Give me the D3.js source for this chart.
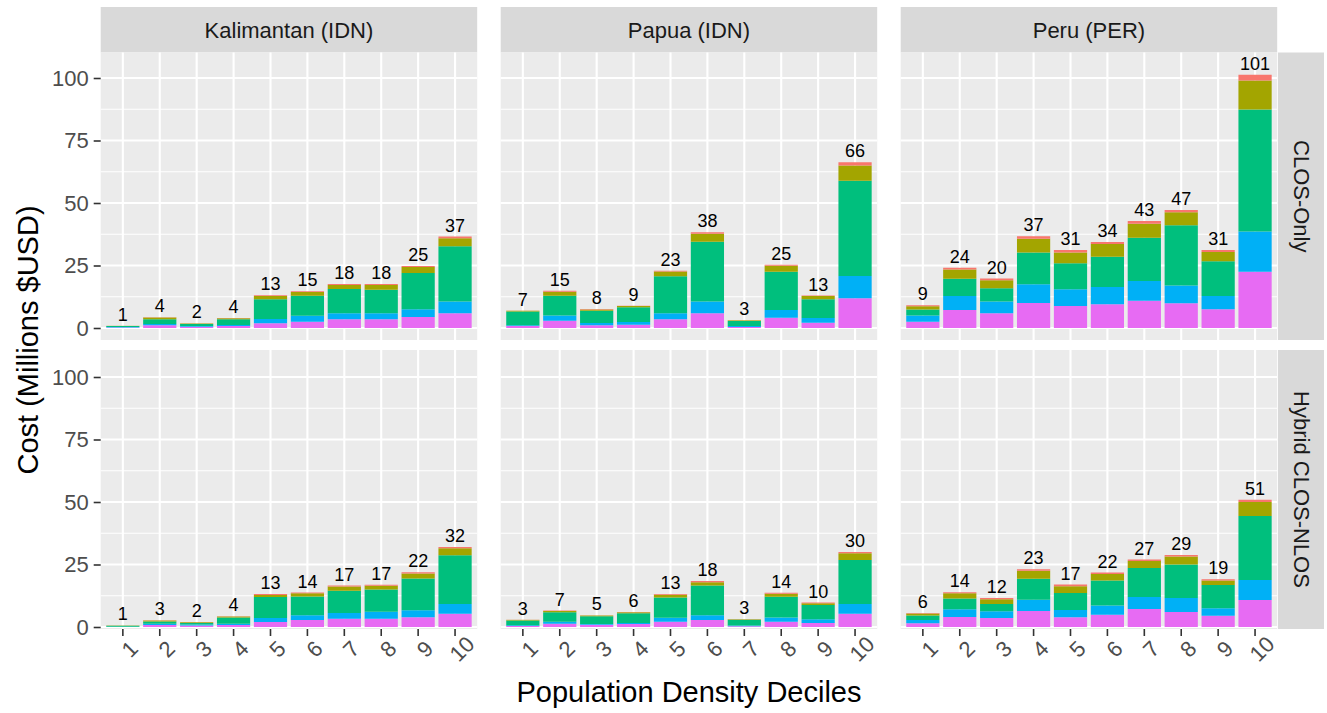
<!DOCTYPE html>
<html><head><meta charset="utf-8">
<script src="https://cdn.jsdelivr.net/npm/d3@7"></script>
<style>
body{margin:0;background:#fff}
text{font-family:"Liberation Sans",Arial,Helvetica,sans-serif}
</style>
</head><body>
<svg id="chart" width="1327" height="713"></svg>
<script>
// ---------- data ----------
const deciles = ["1","2","3","4","5","6","7","8","9","10"];
const regions = ["Kalimantan (IDN)", "Papua (IDN)", "Peru (PER)"];
const strategies = ["CLOS-Only", "Hybrid CLOS-NLOS"];
// cost components, stacked from bottom to top (legend not shown in the figure)
const components = ["Component 1","Component 2","Component 3","Component 4","Component 5"];
const componentColors = ["#E76BF3","#00B0F6","#00BF7D","#A3A500","#F8766D"];
const yTickValues = [0,25,50,75,100];
const yMinorValues = [12.5,37.5,62.5,87.5];

// each facet: one array per component (bottom -> top), values per decile, millions USD
const kalimantanClos = [
  [0.2, 1.1, 0.5, 0.8, 1.9, 2.5, 3.5, 3.5, 4.4, 5.9],
  [0.2, 0.5, 0.3, 0.4, 1.7, 2.4, 2.4, 2.4, 3.1, 4.7],
  [0.4, 1.9, 0.8, 2.3, 7.9, 8.0, 9.7, 9.4, 14.5, 22.1],
  [0.05, 0.7, 0.2, 0.4, 1.3, 1.5, 1.6, 1.9, 2.4, 3.2],
  [0.02, 0.1, 0.05, 0.1, 0.3, 0.3, 0.4, 0.4, 0.4, 0.7]
];
const papuaClos = [
  [0.8, 2.9, 1.1, 1.3, 3.5, 5.9, 0.4, 4.1, 2.1, 11.9],
  [0.3, 2.1, 0.9, 1.1, 2.4, 4.7, 0.4, 3.1, 1.9, 8.9],
  [5.5, 7.9, 4.9, 5.9, 14.8, 23.9, 2.0, 15.3, 7.5, 38.1],
  [0.3, 1.6, 0.5, 0.5, 1.9, 3.2, 0.25, 2.4, 1.3, 6.1],
  [0.05, 0.4, 0.2, 0.1, 0.3, 0.6, 0.05, 0.4, 0.2, 1.3]
];
const peruClos = [
  [2.5, 7.2, 5.9, 10.0, 8.8, 9.5, 10.9, 9.9, 7.5, 22.5],
  [2.5, 5.6, 4.7, 7.5, 6.7, 6.9, 7.9, 7.1, 5.3, 16.1],
  [2.4, 6.9, 5.3, 12.7, 10.4, 12.1, 17.3, 24.1, 13.9, 48.8],
  [1.3, 3.7, 3.2, 5.5, 4.3, 5.1, 5.6, 5.2, 3.7, 11.6],
  [0.4, 0.7, 0.7, 1.0, 1.0, 0.8, 1.1, 0.9, 0.8, 2.3]
];
const kalimantanHybrid = [
  [0.05, 0.8, 0.6, 0.8, 2.0, 2.8, 3.3, 3.3, 3.9, 5.3],
  [0.05, 0.5, 0.4, 0.5, 1.6, 1.9, 2.3, 2.8, 2.8, 3.9],
  [0.4, 0.9, 0.6, 2.5, 8.4, 7.5, 8.9, 8.9, 12.7, 19.5],
  [0.1, 0.4, 0.3, 0.4, 0.8, 1.3, 1.7, 1.5, 2.0, 2.8],
  [0.02, 0.1, 0.05, 0.1, 0.4, 0.3, 0.4, 0.4, 0.5, 0.5]
];
const papuaHybrid = [
  [0.4, 1.3, 0.9, 1.2, 2.1, 2.8, 0.3, 2.1, 1.6, 5.3],
  [0.3, 0.8, 0.3, 0.4, 1.6, 1.9, 0.3, 1.7, 1.5, 3.9],
  [1.9, 3.8, 3.1, 3.9, 8.1, 11.9, 2.3, 8.3, 5.7, 17.6],
  [0.25, 0.5, 0.3, 0.4, 1.1, 1.3, 0.2, 1.2, 0.7, 2.7],
  [0.05, 0.2, 0.05, 0.1, 0.3, 0.5, 0.05, 0.4, 0.3, 0.5]
];
const peruHybrid = [
  [1.5, 4.0, 3.6, 6.4, 3.9, 4.9, 7.2, 6.0, 4.5, 10.8],
  [1.3, 3.1, 2.7, 4.5, 2.9, 3.7, 4.8, 5.6, 3.0, 8.0],
  [1.8, 4.3, 2.9, 8.4, 6.8, 10.0, 11.6, 13.4, 9.3, 25.6],
  [0.8, 2.1, 1.9, 3.2, 2.7, 2.6, 2.8, 3.2, 1.8, 5.6],
  [0.2, 0.4, 0.5, 0.6, 0.7, 0.6, 0.6, 0.6, 0.5, 0.9]
];
const facetData = [
  [kalimantanClos, papuaClos, peruClos],
  [kalimantanHybrid, papuaHybrid, peruHybrid]
];

// ---------- layout ----------
const svg = d3.select("#chart");
const colLeft = [100.7, 500.7, 900.7];
const panelW = 376.5;
const rows = [
  {top: 52.5, bottom: 340, domain: [-4.8, 110.2]},
  {top: 350, bottom: 629, domain: [-0.8, 110.8]}
];
const stripTop = 7;
const rightStripX = 1278, rightStripW = 46;
const FONT = "Liberation Sans, Arial, sans-serif";

// top strips
regions.forEach((r, c) => {
  svg.append("rect").attr("x", colLeft[c]).attr("y", stripTop)
    .attr("width", panelW).attr("height", rows[0].top - stripTop).attr("fill", "#D9D9D9");
  svg.append("text").attr("x", colLeft[c] + panelW/2).attr("y", (stripTop + rows[0].top)/2 + 1)
    .attr("text-anchor", "middle").attr("dominant-baseline", "central")
    .attr("font-size", 22).attr("fill", "#1A1A1A").text(r);
});
// right strips
strategies.forEach((s, r) => {
  const R = rows[r];
  svg.append("rect").attr("x", rightStripX).attr("y", R.top)
    .attr("width", rightStripW).attr("height", R.bottom - R.top).attr("fill", "#D9D9D9");
  const cx = rightStripX + rightStripW/2, cy = (R.top + R.bottom)/2;
  svg.append("text").attr("transform", `translate(${cx},${cy}) rotate(90)`)
    .attr("text-anchor", "middle").attr("dominant-baseline", "central")
    .attr("font-size", 22).attr("fill", "#1A1A1A").text(s);
});

rows.forEach((R, r) => {
  const y = d3.scaleLinear().domain(R.domain).range([R.bottom, R.top]);
  colLeft.forEach((x0, c) => {
    const x = d3.scaleBand().domain(deciles).range([x0, x0 + panelW])
      .paddingInner(0.1).paddingOuter(0.15);
    const g = svg.append("g");
    g.append("rect").attr("x", x0).attr("y", R.top).attr("width", panelW)
      .attr("height", R.bottom - R.top).attr("fill", "#EBEBEB");
    // minor grid
    g.selectAll(".mn").data(yMinorValues).enter().append("line")
      .attr("x1", x0).attr("x2", x0 + panelW)
      .attr("y1", d => y(d)).attr("y2", d => y(d))
      .attr("stroke", "#fff").attr("stroke-width", 1.1);
    // major grid
    g.selectAll(".mj").data(yTickValues).enter().append("line")
      .attr("x1", x0).attr("x2", x0 + panelW)
      .attr("y1", d => y(d)).attr("y2", d => y(d))
      .attr("stroke", "#fff").attr("stroke-width", 2.1);
    g.selectAll(".vx").data(deciles).enter().append("line")
      .attr("x1", d => x(d) + x.bandwidth()/2).attr("x2", d => x(d) + x.bandwidth()/2)
      .attr("y1", R.top).attr("y2", R.bottom)
      .attr("stroke", "#fff").attr("stroke-width", 2.1);

    // stacked bars
    const arrs = facetData[r][c];
    const table = deciles.map((d, i) => {
      const o = {decile: d};
      components.forEach((k, j) => o[k] = arrs[j][i]);
      return o;
    });
    const stacked = d3.stack().keys(components)(table);
    stacked.forEach((series, j) => {
      g.selectAll(null).data(series).enter().append("rect")
        .attr("x", d => x(d.data.decile))
        .attr("width", x.bandwidth())
        .attr("y", d => y(d[1]))
        .attr("height", d => Math.max(0, y(d[0]) - y(d[1])))
        .attr("fill", componentColors[j]);
    });
    // totals
    g.selectAll(null).data(table).enter().append("text")
      .attr("x", d => x(d.decile) + x.bandwidth()/2)
      .attr("y", d => y(d3.sum(components, k => d[k])) - 5)
      .attr("text-anchor", "middle").attr("font-size", 18).attr("fill", "#000")
      .text(d => Math.round(d3.sum(components, k => d[k])));

    // y axis (first column only)
    if (c === 0) {
      const ay = svg.append("g").attr("transform", `translate(${x0},0)`)
        .call(d3.axisLeft(y).tickValues(yTickValues).tickSize(7).tickPadding(5));
      ay.select(".domain").remove();
      ay.selectAll(".tick line").attr("stroke", "#333").attr("stroke-width", 1.6);
      ay.selectAll(".tick text").attr("font-size", 22).attr("fill", "#4D4D4D")
        .attr("font-family", FONT);
    }
    // x axis (bottom row only)
    if (r === rows.length - 1) {
      const ax = svg.append("g").attr("transform", `translate(0,${R.bottom})`)
        .call(d3.axisBottom(x).tickSize(7).tickPadding(0));
      ax.select(".domain").remove();
      ax.selectAll(".tick line").attr("stroke", "#333").attr("stroke-width", 1.6);
      ax.selectAll(".tick text")
        .attr("font-size", 22).attr("fill", "#4D4D4D")
        .attr("font-family", FONT)
        .attr("text-anchor", "middle").attr("dy", null).attr("y", null)
        .attr("dominant-baseline", "central")
        .attr("transform", "translate(7,20) rotate(-45)");
    }
  });
});

// axis titles
svg.append("text").attr("x", 689).attr("y", 702).attr("text-anchor", "middle")
  .attr("font-size", 29).attr("fill", "#000").text("Population Density Deciles");
svg.append("text").attr("transform", `translate(28,340) rotate(-90)`)
  .attr("text-anchor", "middle").attr("dominant-baseline", "central")
  .attr("font-size", 29).attr("fill", "#000").text("Cost (Millions $USD)");
</script>
</body></html>
